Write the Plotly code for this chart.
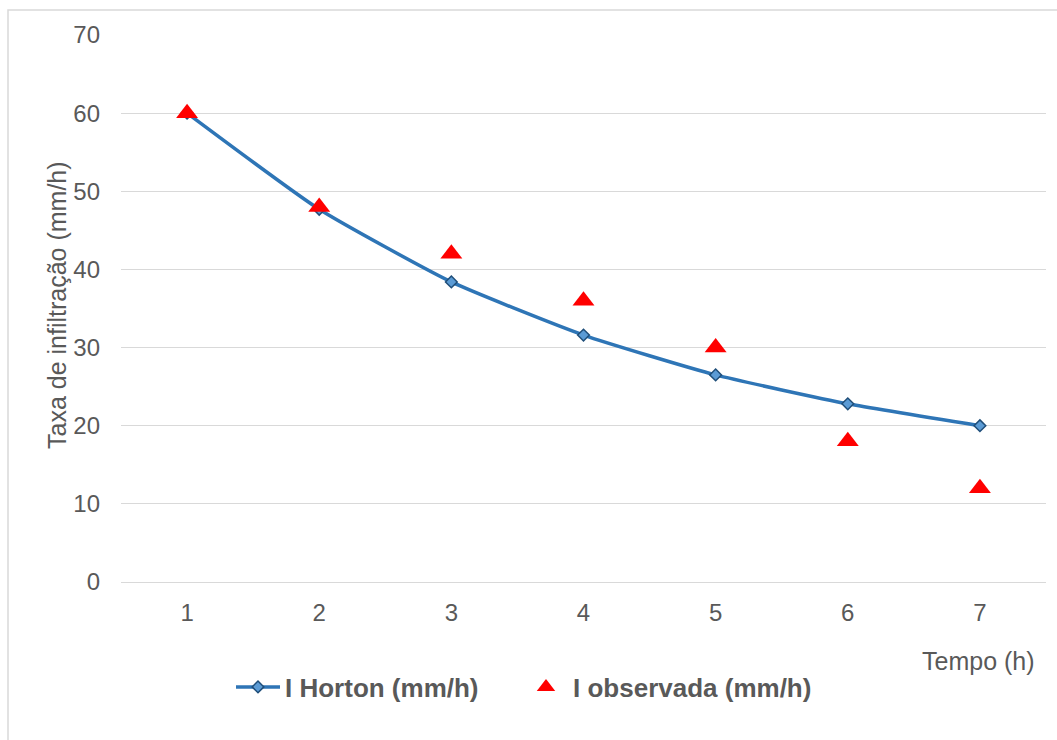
import plotly.graph_objects as go

# Infiltration rate over time: Horton model vs. observed values
tempo = ["1", "2", "3", "4", "5", "6", "7"]
i_horton = [60.0, 47.7, 38.4, 31.6, 26.5, 22.8, 20.0]
i_observada = [60, 48, 42, 36, 30, 18, 12]
y_ticks = [0, 10, 20, 30, 40, 50, 60, 70]

GREY_TXT = "#595959"
GRID = "#D9D9D9"
FONT = "Liberation Sans, Arial, sans-serif"

fig = go.Figure()

fig.add_trace(go.Scatter(
    x=tempo, y=i_horton, name="I Horton (mm/h)",
    mode="lines+markers",
    line=dict(color="#2E75B6", width=3.5, shape="spline", smoothing=0.5),
    marker=dict(symbol="diamond", size=9, color="#5B9BD5",
                line=dict(color="#1F4E79", width=1.5)),
    legend="legend",
))

fig.add_trace(go.Scatter(
    x=tempo, y=i_observada, name="I observada (mm/h)",
    mode="markers",
    marker=dict(symbol="triangle-up", size=19, color="#FF0000"),
    legend="legend2",
))

L, R, T, B = 121, 11, 35, 158
W, H = 1057, 740
pw, ph = W - L - R, H - T - B

def px_x(x):
    return (x - L) / pw

def px_y(y):
    return (H - B - y) / ph

legend_style = dict(
    orientation="h", y=px_y(687),
    xanchor="left", yanchor="middle",
    font=dict(size=26, color=GREY_TXT, family=FONT, weight="bold"),
    itemwidth=44,
    bgcolor="rgba(0,0,0,0)",
)

fig.update_layout(
    width=W, height=H,
    margin=dict(l=L, r=R, t=T, b=B),
    paper_bgcolor="white", plot_bgcolor="white",
    font=dict(family=FONT, color=GREY_TXT, size=24),
    showlegend=True,
    legend=dict(x=px_x(231), **legend_style),
    legend2=dict(x=px_x(519), **legend_style),
    xaxis=dict(
        type="category", range=[-0.5, 6.5],
        showgrid=False, zeroline=False, showline=False,
        ticks="", ticklabelstandoff=14,
        tickfont=dict(size=24, color=GREY_TXT),
    ),
    yaxis=dict(
        range=[0, 70], tickvals=y_ticks,
        showgrid=True, gridcolor=GRID, gridwidth=1,
        zeroline=True, zerolinecolor=GRID, zerolinewidth=1,
        showline=False, ticks="", ticklabelstandoff=20,
        tickfont=dict(size=24, color=GREY_TXT),
    ),
    annotations=[
        dict(text="Taxa de infiltração (mm/h)", textangle=-90,
             xref="paper", yref="paper", x=px_x(57), y=px_y(305),
             xanchor="center", yanchor="middle", showarrow=False,
             font=dict(size=25, color=GREY_TXT)),
        dict(text="Tempo (h)", xref="paper", yref="paper",
             x=px_x(1037), y=px_y(661), xanchor="right", yanchor="middle",
             showarrow=False, font=dict(size=25, color=GREY_TXT)),
    ],
    shapes=[
        dict(type="rect", xref="paper", yref="paper",
             x0=px_x(8), y0=px_y(760), x1=px_x(1080), y1=px_y(10),
             line=dict(color=GRID, width=1.5), fillcolor="rgba(0,0,0,0)",
             layer="below"),
    ],
)

fig.write_html("out.html")
